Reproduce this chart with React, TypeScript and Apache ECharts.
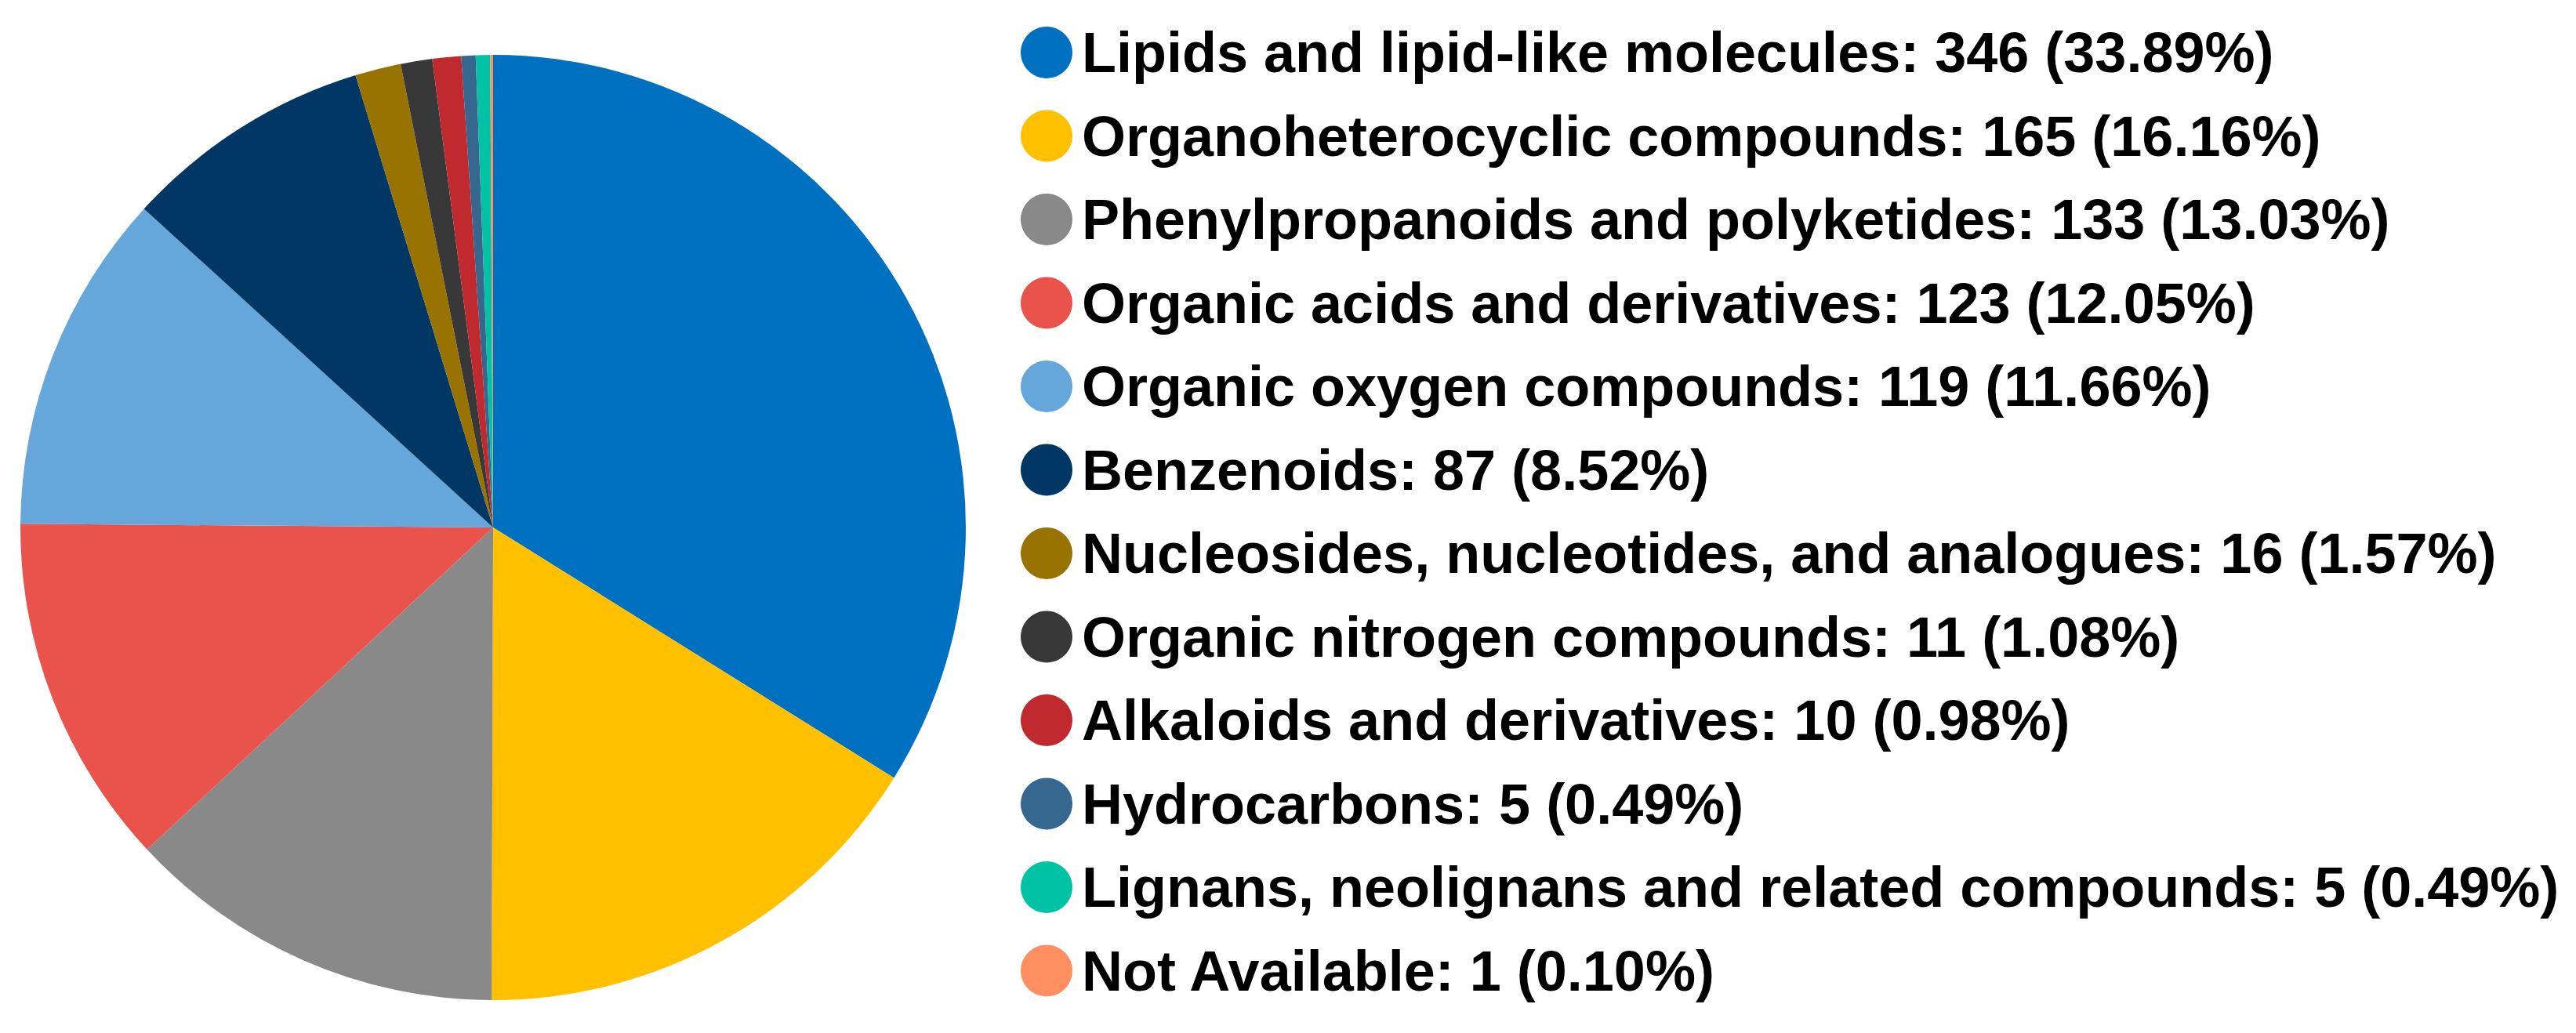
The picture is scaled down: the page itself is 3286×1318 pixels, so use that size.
import React, { useEffect, useRef } from "react";
import * as echarts from "echarts";

const categories = [
  "Lipids and lipid-like molecules",
  "Organoheterocyclic compounds",
  "Phenylpropanoids and polyketides",
  "Organic acids and derivatives",
  "Organic oxygen compounds",
  "Benzenoids",
  "Nucleosides, nucleotides, and analogues",
  "Organic nitrogen compounds",
  "Alkaloids and derivatives",
  "Hydrocarbons",
  "Lignans, neolignans and related compounds",
  "Not Available",
];
const counts = [346, 165, 133, 123, 119, 87, 16, 11, 10, 5, 5, 1];
const colors = [
  "#0070C0",
  "#FFC000",
  "#898989",
  "#EA534C",
  "#66A7DB",
  "#003764",
  "#997300",
  "#383838",
  "#C0292D",
  "#35678F",
  "#00C3A5",
  "#FF8F60",
];

export default function App() {
  const ref = useRef<HTMLDivElement>(null);
  useEffect(() => {
    document.body.style.margin = "0";
    if (!ref.current) return;
    const chart = echarts.init(ref.current, undefined, { renderer: "svg" });
    const total = counts.reduce((a, b) => a + b, 0);
    const data = categories.map((name, i) => ({
      name,
      value: counts[i],
      itemStyle: { color: colors[i] },
    }));
    chart.setOption({
      animation: false,
      backgroundColor: "#ffffff",
      legend: {
        orient: "vertical",
        left: 1302,
        top: 31,
        padding: 0,
        itemWidth: 66,
        itemHeight: 66,
        itemGap: 34.5,
        icon: "circle",
        selectedMode: false,
        data: categories,
        formatter: (name: string) => {
          const i = categories.indexOf(name);
          const pct = ((counts[i] / total) * 100).toFixed(2);
          return `${name}: ${counts[i]} (${pct}%)`;
        },
        textStyle: {
          fontFamily: "Liberation Sans, Arial, sans-serif",
          fontWeight: "bold",
          fontSize: 72,
          lineHeight: 72,
          color: "#000000",
          padding: [0, 0, 0, 7],
        },
      },
      series: [
        {
          type: "pie",
          center: [629, 673],
          radius: 603,
          startAngle: 90,
          clockwise: true,
          label: { show: false },
          labelLine: { show: false },
          emphasis: { disabled: true },
          itemStyle: { borderWidth: 0 },
          data,
        },
      ],
    });
    return () => chart.dispose();
  }, []);
  return <div ref={ref} style={{ width: 3286, height: 1318 }} />;
}
